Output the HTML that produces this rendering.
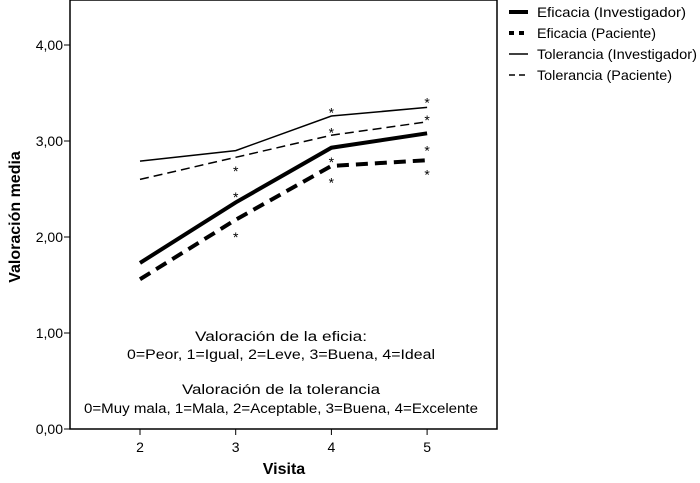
<!DOCTYPE html>
<html><head><meta charset="utf-8"><style>
body{margin:0;background:#fff;}
svg{display:block;font-family:"Liberation Sans",sans-serif;}
</style></head><body>
<svg id="chart" width="700" height="483" viewBox="0 0 700 483" xmlns="http://www.w3.org/2000/svg">
<g id="plot"></g>
</svg>
<script>
const visits = [2, 3, 4, 5];
const yTicks = [0, 1, 2, 3, 4];
const yTickLabels = ["0,00", "1,00", "2,00", "3,00", "4,00"];
const efInv = [1.73, 2.36, 2.93, 3.08];
const efPac = [1.56, 2.18, 2.74, 2.80];
const tolInv = [2.79, 2.90, 3.26, 3.35];
const tolPac = [2.60, 2.83, 3.06, 3.20];
const seriesNames = ["Eficacia (Investigador)", "Eficacia (Paciente)", "Tolerancia (Investigador)", "Tolerancia (Paciente)"];
// asterisk markers: [visit, value]
const starPoints = [[3, 2.45], [3, 2.03], [3, 2.72], [4, 3.33], [4, 3.12], [4, 2.81], [4, 2.60], [5, 3.43], [5, 3.25], [5, 2.93], [5, 2.68]];

const svg = document.getElementById('plot');
const NS = 'http://www.w3.org/2000/svg';
const L = 70, R = 497, T = 0, B = 429;
const xs = v => 140 + (v - 2) * 95.7;
const ys = v => B - v * 96;
function mk(tag, attrs, text) {
  const e = document.createElementNS(NS, tag);
  for (const k in attrs) e.setAttribute(k, attrs[k]);
  if (text !== undefined) e.textContent = text;
  svg.appendChild(e);
  return e;
}
let e = mk('rect', {x: L, y: T, width: R - L, height: B - T, fill: 'none', stroke: '#000', 'stroke-width': 1.5});


yTicks.forEach((t, i) => {
  let tk = mk('line', {x1: L - 6, x2: L, y1: ys(t), y2: ys(t), stroke: '#000'});
  
  
  let lb = mk('text', {x: L - 7, y: ys(t) + 5, 'text-anchor': 'end', 'font-size': 14}, yTickLabels[i]);
  
  
});
visits.forEach(v => {
  let tk = mk('line', {x1: xs(v), x2: xs(v), y1: B, y2: B + 6, stroke: '#000'});
  
  
  let lb = mk('text', {x: xs(v), y: B + 23, 'text-anchor': 'middle', 'font-size': 14}, String(v));
  
  
});
let xt = mk('text', {x: 284, y: 474, 'text-anchor': 'middle', 'font-size': 16, 'font-weight': 'bold'}, 'Visita');


let yt = mk('text', {x: 20, y: 217, 'text-anchor': 'middle', 'font-size': 16, 'font-weight': 'bold', transform: 'rotate(-90 20 217)'}, 'Valoración media');



const styles = [
  {w: 4, d: ''}, {w: 4, d: '12 7'}, {w: 1.5, d: ''}, {w: 1.5, d: '9 5'}
];
const data = [efInv, efPac, tolInv, tolPac];
data.forEach((s, i) => {
  const pts = s.map((v, j) => xs(visits[j]) + ',' + ys(v)).join(' ');
  let pl = mk('polyline', {points: pts, fill: 'none', stroke: '#000', 'stroke-width': styles[i].w, 'stroke-dasharray': styles[i].d});
  
  
  const ly = 12 + i * 21;
  let ll = mk('line', {x1: 509, x2: 528, y1: ly, y2: ly, stroke: '#000', 'stroke-width': styles[i].w, 'stroke-dasharray': i === 1 ? '5 5' : (i === 3 ? '6 4' : '')});
  
  
  let lt = mk('text', {x: 537, y: ly + 5, 'font-size': 14, textLength: [149, 119, 160, 135][i], lengthAdjust: 'spacingAndGlyphs'}, seriesNames[i]);
  
  
});
starPoints.forEach(p => {
  let st = mk('text', {x: xs(p[0]), y: ys(p[1]) + 8, 'text-anchor': 'middle', 'font-size': 14}, '*');
  
  
});
const notes = [["Valoración de la eficia:", 341, 172], ["0=Peor, 1=Igual, 2=Leve, 3=Buena, 4=Ideal", 359, 308], ["Valoración de la tolerancia", 394, 198], ["0=Muy mala, 1=Mala, 2=Aceptable, 3=Buena, 4=Excelente", 413, 394]];
notes.forEach(n => {
  let t = mk('text', {x: 281, y: n[1], 'text-anchor': 'middle', 'font-size': 13.5, textLength: n[2], lengthAdjust: 'spacingAndGlyphs'}, n[0]);
  
  
});
</script>
</body></html>
